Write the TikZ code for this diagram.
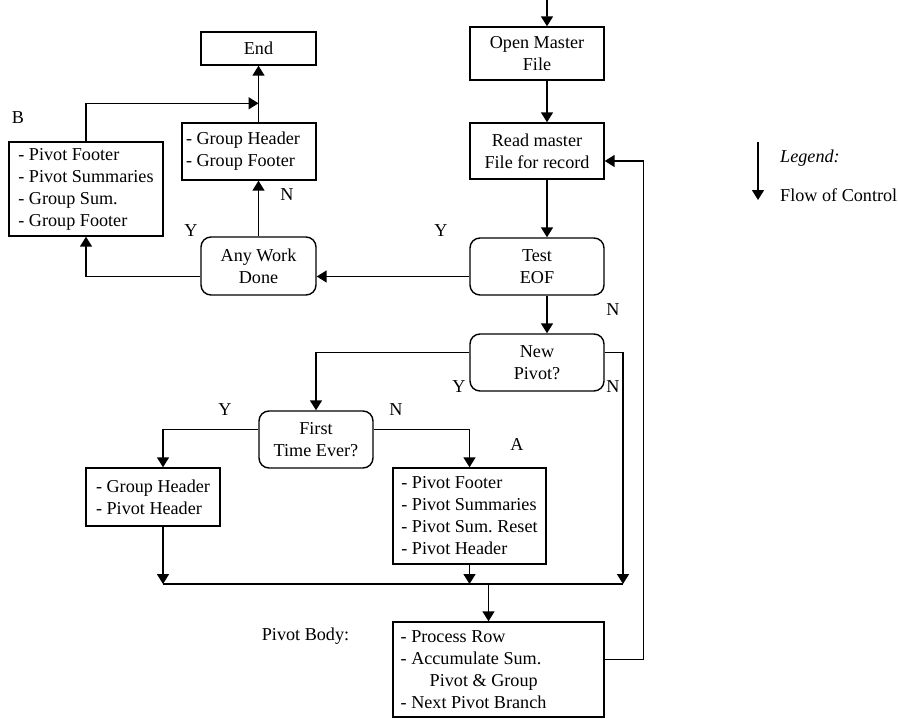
\documentclass[tikz,border=0pt]{standalone}
\usepackage{fontspec}
\setmainfont{Liberation Serif}
\usepackage{tikz}
\usetikzlibrary{arrows.meta, positioning, calc}
\frenchspacing

\begin{document}
\begin{tikzpicture}[
    every node/.style={font=\fontsize{15.5}{18.8}\selectfont},
    process/.style={rectangle, draw, line width=1.2pt, minimum width=4.02cm, minimum height=1.68cm, align=center, inner sep=0.1cm},
    decision/.style={rectangle, rounded corners=0.3cm, draw, line width=1.2pt, minimum width=4.02cm, minimum height=1.71cm, align=center, inner sep=0.1cm},
    listbox/.style={rectangle, draw, line width=1.2pt, align=flush left, inner xsep=0.2cm, inner ysep=0.1cm},
    tag/.style={inner sep=0pt},
    line/.style={line width=1.3pt},
    arrow/.style={-{Triangle[length=0.3cm, width=0.36cm]}, line width=1.3pt}
]
    \useasboundingbox (0,0) rectangle (26.94,-21.54);

    % Main column
    \node[process, minimum height=1.59cm] (open) at (16.11,-1.605) {Open Master\\File};
    \node[process] (read) at (16.11,-4.53) {Read master\\File for record};
    \node[decision] (eof) at (16.11,-7.995) {Test\\EOF};
    \node[decision] (newpivot) at (16.11,-10.875) {New\\Pivot?};

    % End branch
    \node[process, minimum width=3.45cm, minimum height=0.99cm] (finish) at (7.755,-1.455) {End};
    \node[listbox, text width=3.78cm, inner xsep=0.12cm, minimum height=1.71cm] (grpend) at (7.47,-4.545) {- Group Header\\- Group Footer};
    \node[listbox, minimum width=4.62cm, minimum height=2.82cm] (pivend) at (2.58,-5.67) {- Pivot Footer\\- Pivot Summaries\\- Group Sum.\\- Group Footer};
    \node[decision, minimum width=3.45cm, minimum height=1.74cm] (anywork) at (7.755,-7.98) {Any Work\\Done};

    % Pivot branch
    \node[decision, minimum width=3.42cm] (first) at (9.48,-13.185) {First\\Time Ever?};
    \node[listbox, minimum width=4.02cm, minimum height=1.74cm] (grphead) at (4.59,-14.91) {- Group Header\\- Pivot Header};
    \node[listbox, minimum width=4.59cm, minimum height=2.88cm] (pivfoot) at (14.085,-15.48) {- Pivot Footer\\- Pivot Summaries\\- Pivot Sum. Reset\\- Pivot Header};
    \node[listbox, text width=5.87cm, inner xsep=0.23cm, minimum height=2.85cm] (body) at (14.955,-20.085) {- Process Row\\- Accumulate Sum.\\\hspace*{1.6em}Pivot \& Group\\- Next Pivot Branch};

    % Labels
    \node[tag] (lblb) at (0.54,-3.54) {B};
    \node[tag] (lbla) at (15.51,-13.35) {A};
    \node[tag] (nwork) at (8.61,-5.85) {N};
    \node[tag] (ywork) at (5.73,-6.93) {Y};
    \node[tag] (yeof) at (13.23,-6.93) {Y};
    \node[tag] (neof) at (18.39,-9.3) {N};
    \node[tag] (ynew) at (13.77,-11.61) {Y};
    \node[tag] (nnew) at (18.39,-11.61) {N};
    \node[tag] (yfirst) at (6.75,-12.3) {Y};
    \node[tag] (nfirst) at (11.88,-12.3) {N};
    \node[tag] (bodylbl) at (9.165,-19.08) {Pivot Body:};

    % Legend
    \coordinate (legtop) at (22.74,-4.26);
    \coordinate (legbot) at (22.74,-6.0);
    \node[tag, anchor=west] (legend) at (23.4,-4.74) {\textit{Legend:}};
    \node[tag, anchor=west] (flow) at (23.4,-5.85) {Flow of Control};
    \draw[arrow] (legtop) -- (legbot);

    % Connections
    \coordinate (start) at (16.41,0);
    \draw[arrow] (start) -- ([xshift=0.3cm]open.north);
    \draw[arrow] ([xshift=0.3cm]open.south) -- ([xshift=0.3cm]read.north);
    \draw[arrow] ([xshift=0.3cm]read.south) -- ([xshift=0.3cm]eof.north);
    \draw[arrow] ([yshift=-0.3cm]eof.west) -- ([yshift=-0.3cm]eof.west -| anywork.east);
    \draw[arrow] ([yshift=-0.3cm]eof.west -| anywork.west) -| (pivend.south);
    \draw[arrow] (anywork.north) -- (anywork.north |- grpend.south);
    \draw[arrow] (finish.south |- grpend.north) -- (finish.south);
    \coordinate (bjoin) at ($(finish.south |- grpend.north)+(0,0.57)$);
    \draw[arrow] (pivend.north) |- (bjoin);

    \draw[arrow] ([xshift=0.3cm]eof.south) -- ([xshift=0.3cm]newpivot.north);
    \draw[arrow] ([yshift=0.3cm]newpivot.west) -| (first.north);
    \coordinate (mright) at (18.69,-17.52);
    \coordinate (mleft) at ([xshift=0.3cm]grphead.south |- mright);
    \draw[arrow] ([yshift=0.3cm]newpivot.east) -| (mright);
    \draw[arrow] ([yshift=0.3cm]first.west) -| ([xshift=0.3cm]grphead.north);
    \draw[arrow] ([yshift=0.3cm]first.east) -| (pivfoot.north);
    \draw[arrow] ([xshift=0.3cm]grphead.south) -- (mleft);
    \draw[arrow] (pivfoot.south) -- (pivfoot.south |- mleft);
    \draw[line] (mleft) -- (mright);
    \draw[arrow] ([xshift=-0.3cm]body.north |- mleft) -- ([xshift=-0.3cm]body.north);
    \draw[arrow] ([yshift=0.3cm]body.east) -- ++(1.17,0) |- ([yshift=-0.3cm]read.east);

\end{tikzpicture}
\end{document}
